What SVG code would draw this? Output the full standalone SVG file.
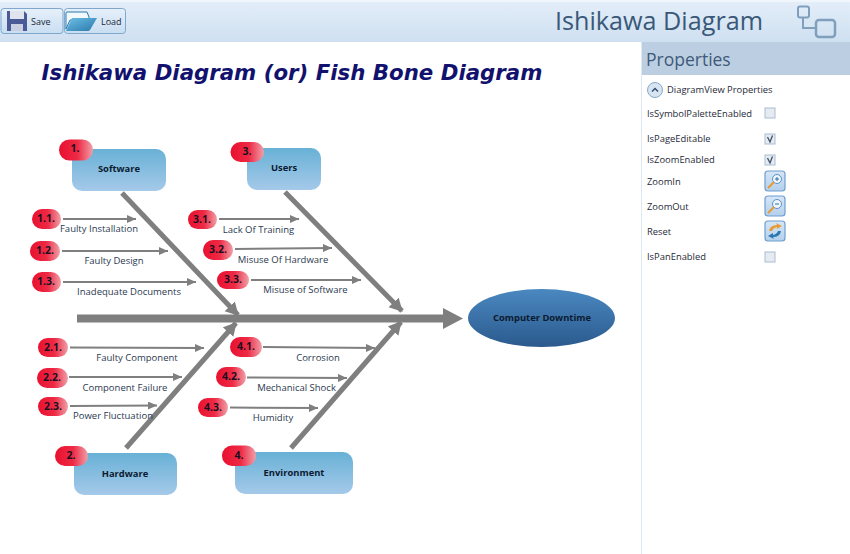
<svg xmlns="http://www.w3.org/2000/svg" width="850" height="554" viewBox="0 0 850 554">
<style>
text{font-family:"Open Sans","Noto Sans","Liberation Sans",sans-serif}
.lbl{font-size:9.5px;fill:#2c3a50;text-anchor:middle}
.num{font-size:10.500px;font-weight:700;fill:#1a1020;text-anchor:middle}
.nm{font-size:9.400px;font-weight:700;fill:#0c1a30;text-anchor:middle}
.prop{font-size:9.400px;fill:#1f2a38}
.badge{fill:url(#red)}
.box{fill:url(#blue)}
.bone{stroke:#7f7f7f;stroke-width:5;fill:none}
.rib{stroke:#7f7f7f;stroke-width:2;fill:none;marker-end:url(#ah)}
.chk{fill:#e6ebf1;stroke:#a9bdd2;stroke-width:1}
.tool{fill:url(#btn);stroke:#7fa8cf;stroke-width:1}
.btn{fill:url(#btn2);stroke:#6f9fcf;stroke-width:1.200}
</style>
<defs>
<linearGradient id="red"><stop offset="0" stop-color="#e8102f"/><stop offset=".55" stop-color="#ee2a45"/><stop offset="1" stop-color="#f0a0a8"/></linearGradient>
<linearGradient id="blue" x2="0" y2="1"><stop offset="0" stop-color="#68b1d6"/><stop offset="1" stop-color="#a5c9e9"/></linearGradient>
<linearGradient id="oval" x2="0" y2="1"><stop offset="0" stop-color="#4a88c0"/><stop offset="1" stop-color="#2b5a8e"/></linearGradient>
<linearGradient id="head" x2="0" y2="1"><stop offset="0" stop-color="#e4eef9"/><stop offset="1" stop-color="#cfe0f1"/></linearGradient>
<linearGradient id="btn" x2="0" y2="1"><stop offset="0" stop-color="#e6f0fa"/><stop offset="1" stop-color="#c9def2"/></linearGradient>
<linearGradient id="btn2" x2="0" y2="1"><stop offset="0" stop-color="#d6e6f6"/><stop offset="1" stop-color="#b4d0ec"/></linearGradient>
<linearGradient id="folder" x2="1" y2="1"><stop offset="0" stop-color="#6cc0e4"/><stop offset="1" stop-color="#2a78ad"/></linearGradient>
<marker id="ah" markerUnits="userSpaceOnUse" markerWidth="10" markerHeight="9" refX="9" refY="4" orient="auto"><path d="M0 0L9 4L0 8Z" fill="#7f7f7f"/></marker>
<marker id="ahb" markerUnits="userSpaceOnUse" markerWidth="14" markerHeight="15" refX="12" refY="7" orient="auto"><path d="M0 0L13 7L0 14Z" fill="#7f7f7f"/></marker>
</defs>
<rect width="850" height="554" fill="#fff"/>
<g id="toolbar">
<rect width="850" height="42" fill="url(#head)"/>
<rect width="850" height="2" fill="#f1f6fc"/>
<g id="save-button">
<rect class="tool" x="1" y="8.500" width="62" height="25" rx="3"/>
<path d="M7 11H24L27 14V31H7Z" fill="#4a5a96"/>
<rect x="10" y="11" width="14" height="8" fill="#dfe4ee"/>
<rect x="11" y="24" width="12" height="7" fill="#c8cfe0"/>
<text x="31" y="25" style="font-size:9px" fill="#1c2838">Save</text>
</g>
<g id="load-button">
<rect class="tool" x="64.500" y="8.500" width="61" height="25" rx="3"/>
<path d="M66 29V13Q66 12 67 12H87L89 17V20H70Z" fill="#f3f8fd" stroke="#2a78ad" stroke-width="1"/>
<path d="M66 31L72 18H97L90 30Q89 31 88 31Z" fill="url(#folder)"/>
<text x="101" y="25" style="font-size:9px" fill="#1c2838">Load</text>
</g>
<text x="659" y="30" text-anchor="middle" font-size="25.200" fill="#3a5878">Ishikawa Diagram</text>
<g id="logo" fill="none" stroke="#7f9fbd" stroke-width="2">
<rect x="798" y="6.500" width="11" height="11" rx="2"/>
<rect x="816" y="20" width="19" height="17" rx="3" stroke-width="2.500"/>
<path d="M803 18V28H815"/>
</g>
</g>
<text x="292" y="80" text-anchor="middle" style="font-family:'DejaVu Sans','Liberation Sans',sans-serif" font-size="21.300" font-weight="700" font-style="italic" fill="#12126e">Ishikawa Diagram (or) Fish Bone Diagram</text>
<g id="connectors">
<path d="M77 318.500H445" stroke="#7f7f7f" stroke-width="8" fill="none"/>
<path d="M443 308L463 318.500L443 329Z" fill="#7f7f7f"/>
<path class="bone" d="M122 193L238 315" marker-end="url(#ahb)"/>
<path class="bone" d="M285 192L402 311" marker-end="url(#ahb)"/>
<path class="bone" d="M126 448L236 323" marker-end="url(#ahb)"/>
<path class="bone" d="M291 448L401 322" marker-end="url(#ahb)"/>
<path class="rib" d="M63 219H136"/>
<path class="rib" d="M62 251H168"/>
<path class="rib" d="M63 282H196"/>
<path class="rib" d="M219 219H299"/>
<path class="rib" d="M235 249L332 248"/>
<path class="rib" d="M251 280H361"/>
<path class="rib" d="M70 347.500L204 348"/>
<path class="rib" d="M69 377H182"/>
<path class="rib" d="M70 406L157 405.500"/>
<path class="rib" d="M263 347L375 348"/>
<path class="rib" d="M247 377.500L347 378"/>
<path class="rib" d="M230 407.500L318 408"/>
</g>
<g id="software"><rect class="box" x="72" y="149" width="94" height="42" rx="10"/><text class="nm" x="119" y="172">Software</text></g>
<g id="software-num"><rect class="badge" x="59" y="139.500" width="34" height="21" rx="10.500"/><text class="num" x="75" y="152">1.</text></g>
<g id="users"><rect class="box" x="247" y="148" width="74" height="42" rx="10"/><text class="nm" x="284" y="171">Users</text></g>
<g id="users-num"><rect class="badge" x="230.500" y="142" width="33.500" height="20" rx="10"/><text class="num" x="247" y="155">3.</text></g>
<g id="hardware"><rect class="box" x="74" y="453" width="103" height="42" rx="10"/><text class="nm" x="125" y="477">Hardware</text></g>
<g id="hardware-num"><rect class="badge" x="55" y="446" width="33" height="20" rx="10"/><text class="num" x="71" y="459">2.</text></g>
<g id="environment"><rect class="box" x="235" y="452" width="118" height="42" rx="10"/><text class="nm" x="294" y="476">Environment</text></g>
<g id="environment-num"><rect class="badge" x="222" y="445.500" width="34" height="20.500" rx="10"/><text class="num" x="239" y="459">4.</text></g>
<g id="computer-downtime"><ellipse cx="541.500" cy="318" rx="73.500" ry="29" fill="url(#oval)"/><text class="nm" x="542" y="321">Computer Downtime</text></g>
<g id="n11"><rect class="badge" x="32" y="209" width="29" height="20" rx="10"/><text class="num" x="46" y="222">1.1.</text></g>
<g id="n12"><rect class="badge" x="30" y="241" width="30" height="20" rx="10"/><text class="num" x="45" y="254">1.2.</text></g>
<g id="n13"><rect class="badge" x="32" y="272" width="29" height="20" rx="10"/><text class="num" x="46" y="285">1.3.</text></g>
<g id="n31"><rect class="badge" x="188" y="210" width="29" height="19" rx="9.500"/><text class="num" x="202" y="223">3.1.</text></g>
<g id="n32"><rect class="badge" x="203" y="240" width="30" height="20" rx="10"/><text class="num" x="218" y="253">3.2.</text></g>
<g id="n33"><rect class="badge" x="217" y="271" width="32" height="18" rx="9"/><text class="num" x="233" y="283">3.3.</text></g>
<g id="n21"><rect class="badge" x="38" y="338" width="30" height="19" rx="9.500"/><text class="num" x="53" y="351">2.1.</text></g>
<g id="n22"><rect class="badge" x="37" y="368" width="31" height="20" rx="10"/><text class="num" x="52" y="381">2.2.</text></g>
<g id="n23"><rect class="badge" x="38" y="397" width="30" height="19" rx="9.500"/><text class="num" x="53" y="410">2.3.</text></g>
<g id="n41"><rect class="badge" x="230" y="337" width="32" height="20" rx="10"/><text class="num" x="246" y="350">4.1.</text></g>
<g id="n42"><rect class="badge" x="216" y="367" width="30" height="20" rx="10"/><text class="num" x="231" y="380">4.2.</text></g>
<g id="n43"><rect class="badge" x="198" y="398" width="30" height="19" rx="9.500"/><text class="num" x="213" y="411">4.3.</text></g>
<g id="labels">
<text class="lbl" x="99" y="232">Faulty Installation</text>
<text class="lbl" x="114" y="264">Faulty Design</text>
<text class="lbl" x="129" y="295">Inadequate Documents</text>
<text class="lbl" x="258.500" y="233">Lack Of Training</text>
<text class="lbl" x="283" y="263">Misuse Of Hardware</text>
<text class="lbl" x="305.500" y="293">Misuse of Software</text>
<text class="lbl" x="137" y="361">Faulty Component</text>
<text class="lbl" x="125" y="391">Component Failure</text>
<text class="lbl" x="113" y="419">Power Fluctuation</text>
<text class="lbl" x="318" y="361">Corrosion</text>
<text class="lbl" x="296.500" y="391">Mechanical Shock</text>
<text class="lbl" x="273" y="421">Humidity</text>
</g>
<g id="properties">
<path d="M641.500 42V554" stroke="#dfe8f2"/>
<rect x="642" y="42" width="208" height="33" fill="#bccfe2"/>
<text x="646" y="66" font-size="17.500" fill="#3f5a78">Properties</text>
<circle cx="655" cy="90" r="7.500" fill="#d7e4f2" stroke="#8aa8c8"/>
<path d="M652 91.500L655 88.500L658 91.500" fill="none" stroke="#34506e" stroke-width="1.500"/>
<text class="prop" x="667" y="93">DiagramView Properties</text>
<text class="prop" x="647" y="117">IsSymbolPaletteEnabled</text>
<rect class="chk" x="765" y="108" width="10" height="10"/>
<text class="prop" x="647" y="142">IsPageEditable</text>
<rect class="chk" x="765" y="134" width="10" height="10"/>
<path d="M767.500 137L770 142L772.500 135.500" fill="none" stroke="#3c5068" stroke-width="1.300"/>
<text class="prop" x="647" y="163">IsZoomEnabled</text>
<rect class="chk" x="765" y="155" width="10" height="10"/>
<path d="M767.500 158L770 163L772.500 156.500" fill="none" stroke="#3c5068" stroke-width="1.300"/>
<text class="prop" x="647" y="185">ZoomIn</text>
<g id="zoom-in"><rect class="btn" x="765" y="171" width="20" height="20" rx="3"/><circle cx="777" cy="179" r="4.500" fill="#eef6fc" stroke="#5c92c4"/><path d="M774 182L768 188" stroke="#e89a35" stroke-width="2"/><path d="M775 179H779M777 177V181" stroke="#2d6ea8"/></g>
<text class="prop" x="647" y="210">ZoomOut</text>
<g id="zoom-out"><rect class="btn" x="765" y="196" width="20" height="20" rx="3"/><circle cx="777" cy="204" r="4.500" fill="#eef6fc" stroke="#5c92c4"/><path d="M774 207L768 213" stroke="#e89a35" stroke-width="2"/><path d="M775 204H779" stroke="#2d6ea8"/></g>
<text class="prop" x="647" y="235">Reset</text>
<g id="reset"><rect class="btn" x="765" y="221" width="20" height="20" rx="3"/><path d="M769 231Q770 225 777 225L776 223L782 226L777 229V227Q773 228 772 231Z" fill="#e89a35"/><path d="M781 231Q780 237 773 237L774 239L768 236L773 233V235Q777 234 778 231Z" fill="#2d78b0"/></g>
<text class="prop" x="647" y="260">IsPanEnabled</text>
<rect class="chk" x="765" y="252" width="10" height="10"/>
</g>
</svg>
